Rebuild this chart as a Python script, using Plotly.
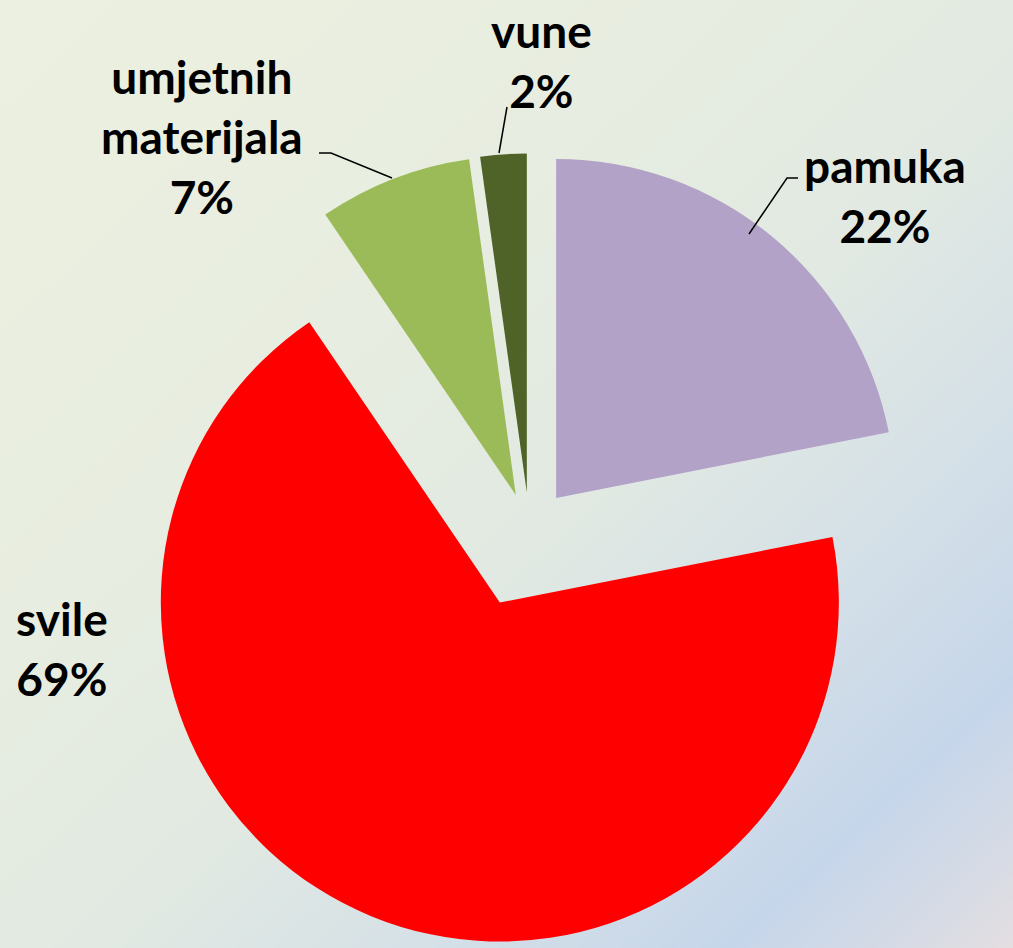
import plotly.graph_objects as go

# Data
labels = ["pamuka", "svile", "umjetnih<br>materijala", "vune"]
values = [21.9, 68.6, 7.3, 2.2]
colors = ["#B3A2C7", "#FF0000", "#9BBB59", "#4F6228"]
pulls = [0.124, 0.23, 0.112, 0.112]

W, H = 1013, 948
total = sum(values)
pct = [f"{round(v / total * 100)}%" for v in values]

fig = go.Figure()

# background gradient (style only)
fig.add_trace(go.Heatmap(
    x=[0, W], y=[0, H], z=[[0, 0.5], [0.5, 1]],
    zsmooth="best", showscale=False, hoverinfo="skip",
    colorscale=[[0.0, "#ECF0E0"], [0.35, "#E7EDE0"], [0.55, "#E1E9E2"],
                [0.7, "#D6E1E7"], [0.86, "#C6D6EA"], [0.93, "#D3DAE6"],
                [1.0, "#E4DEE1"]],
    zmin=0, zmax=1,
))

fig.add_trace(go.Pie(
    labels=labels, values=values, sort=False, direction="clockwise",
    rotation=0, pull=pulls, textinfo="none", hoverinfo="label+percent",
    marker=dict(colors=colors, line=dict(width=0)),
    domain=dict(x=[0.111, 0.9343], y=[0.0006, 0.8804]),
    showlegend=False,
))

font = dict(family="Lato", size=46, color="black", weight="bold")
label_pos = [(885, 195), (62, 648), (202, 136), (541, 60)]
for lab, p, (x, y) in zip(labels, pct, label_pos):
    fig.add_annotation(x=x, y=y, xref="x", yref="y", text=f"{lab}<br>{p}",
                       showarrow=False, font=font, xanchor="center",
                       yanchor="middle", align="center")

# leader lines
leaders = [
    [(798, 178), (787, 178), (749, 234)],
    [(319, 153), (331, 153), (392, 178)],
    [(507, 107), (499, 153)],
]
for pts in leaders:
    path = "M " + " L ".join(f"{a},{b}" for a, b in pts)
    fig.add_shape(type="path", path=path, xref="x", yref="y",
                  line=dict(color="black", width=1.5), layer="above")

fig.update_layout(
    width=W, height=H, margin=dict(l=0, r=0, t=0, b=0),
    paper_bgcolor="#E3E9E2", plot_bgcolor="rgba(0,0,0,0)",
    xaxis=dict(range=[0, W], visible=False, fixedrange=True),
    yaxis=dict(range=[H, 0], visible=False, fixedrange=True),
)

fig.write_html("out.html", config={"displayModeBar": False},
               post_script="document.body.style.margin='0';document.body.style.overflow='hidden';")
